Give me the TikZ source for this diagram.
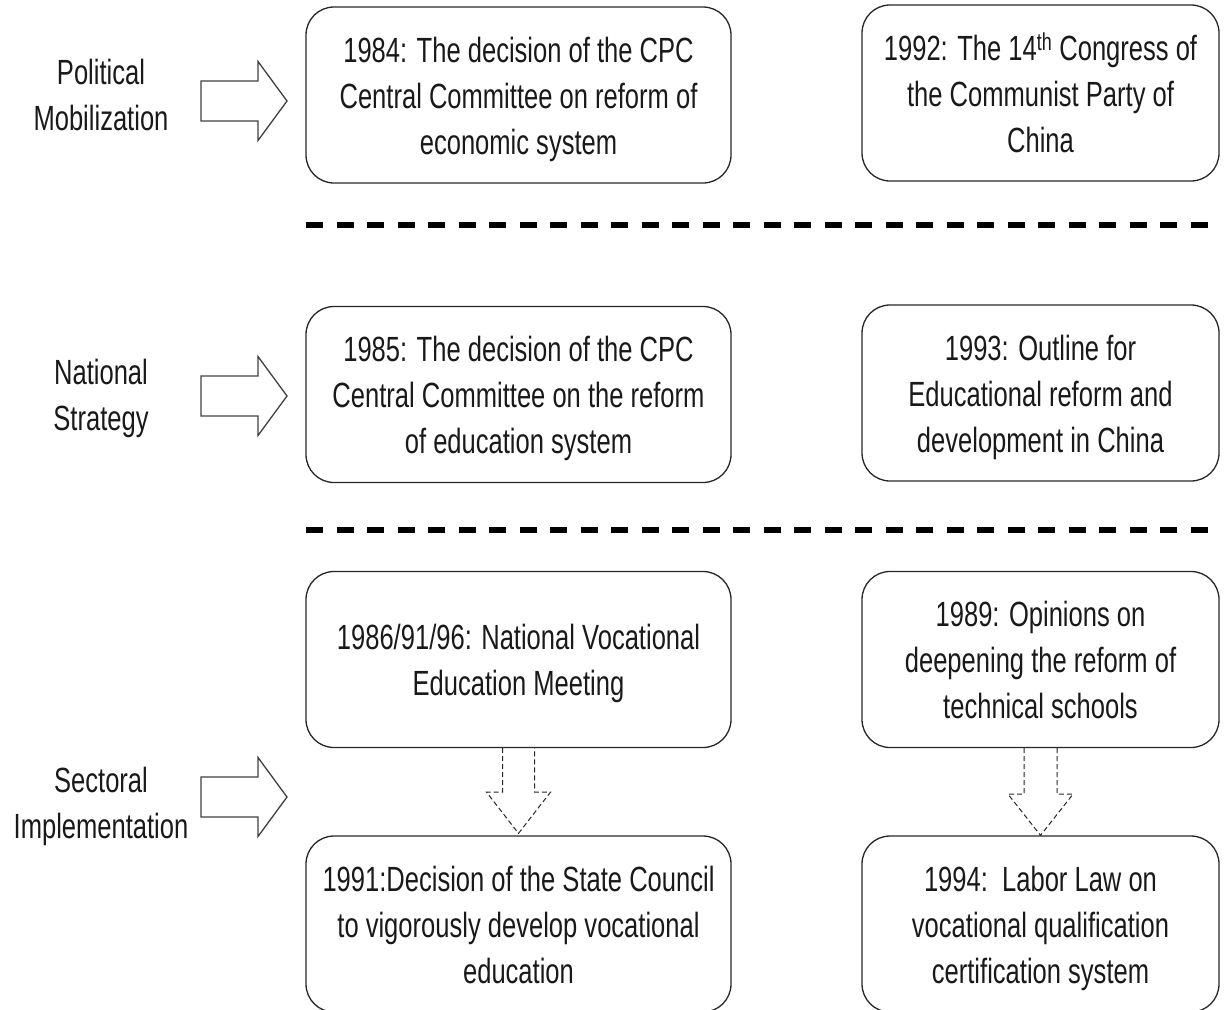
\documentclass[tikz,border=0pt]{standalone}
\usepackage{fontspec}
\setmainfont[FakeStretch=0.73]{Liberation Sans}
\usetikzlibrary{positioning,calc}

\newcommand{\boxstrut}{\rule{0pt}{34pt}}
\newcommand{\boxdepth}{\rule[-8pt]{0pt}{0pt}}

\tikzset{
  eventbox/.style={draw=black!85, line width=1.3pt, rounded corners=28pt,
    align=center, inner sep=0pt, minimum height=176pt,
    font=\fontsize{35}{46}\selectfont, text=black!90},
  leftbox/.style={eventbox, minimum width=425pt},
  rightbox/.style={eventbox, minimum width=357pt},
  levellabel/.style={align=center, font=\fontsize{35}{46}\selectfont, text=black!90},
  sepline/.style={line width=5.5pt, dash pattern=on 17pt off 13.5pt},
  hollowarrow/.style={draw=black!75, line width=1.3pt, line join=miter},
  dashedarrow/.style={draw=black!85, line width=1pt, dash pattern=on 5pt off 3pt}
}

\begin{document}
\begin{tikzpicture}[x=1pt, y=-1pt]
    \clip (0,0) rectangle (1225,1009);

    % level labels
    \node[levellabel] (polit) at (101,95) {Political\\Mobilization};
    \node[levellabel] (natl) at (101,398) {National\\Strategy};
    \node[levellabel] (sect) at (101,806) {Sectoral\\Implementation};

    % hollow arrows
    \foreach \y in {101, 396, 797}
      \draw[hollowarrow] (201,\y-20) -- (258,\y-20) -- (258,\y-39.5) -- (287,\y)
        -- (258,\y+39.5) -- (258,\y+20) -- (201,\y+20) -- cycle;

    % first row
    \node[leftbox] (b11) at (518.5,95)
      {\boxstrut 1984: The decision of the CPC\\Central Committee on reform of\\economic system};
    \node[rightbox] (b12) at (1040.5,93)
      {\boxstrut 1992: The 14\textsuperscript{th} Congress of\\the Communist Party of\\China\boxdepth};

    \draw[sepline] (306,225) -- (1212,225);

    % second row
    \node[leftbox] (b21) at (518.5,394.5)
      {\boxstrut 1985: The decision of the CPC\\Central Committee on the reform\\of education system};
    \node[rightbox] (b22) at (1040.5,393)
      {\boxstrut 1993: Outline for\\Educational reform and\\development in China};

    \draw[sepline] (306,530) -- (1212,530);

    % third row
    \node[leftbox] (b31) at (518.5,659.5)
      {\boxstrut 1986/91/96: National Vocational\\Education Meeting};
    \node[rightbox] (b32) at (1040.5,659.5)
      {\boxstrut 1989: Opinions on\\deepening the reform of\\technical schools\boxdepth};
    \node[leftbox] (b41) at (518.5,924)
      {\boxstrut 1991:Decision of the State Council\\to vigorously develop vocational\\education\boxdepth};
    \node[rightbox] (b42) at (1040.5,924)
      {\boxstrut 1994:\ \ Labor Law on\\vocational qualification\\certification system};

    % dashed arrows
    \draw[dashedarrow] ($(b31.south)+(-16,0)$) -- ++(0,44) -- ++(-16,0) -- ($(b41.north)+(0,-2)$)
      -- ($(b31.south)+(32,44)$) -- ++(-16,0) -- ($(b31.south)+(16,0)$);
    \draw[dashedarrow] ($(b32.south)+(-16.5,0)$) -- ++(0,46) -- ++(-16,0) -- (b42.north)
      -- ($(b32.south)+(32.5,46)$) -- ++(-16,0) -- ($(b32.south)+(16.5,0)$);
\end{tikzpicture}
\end{document}
